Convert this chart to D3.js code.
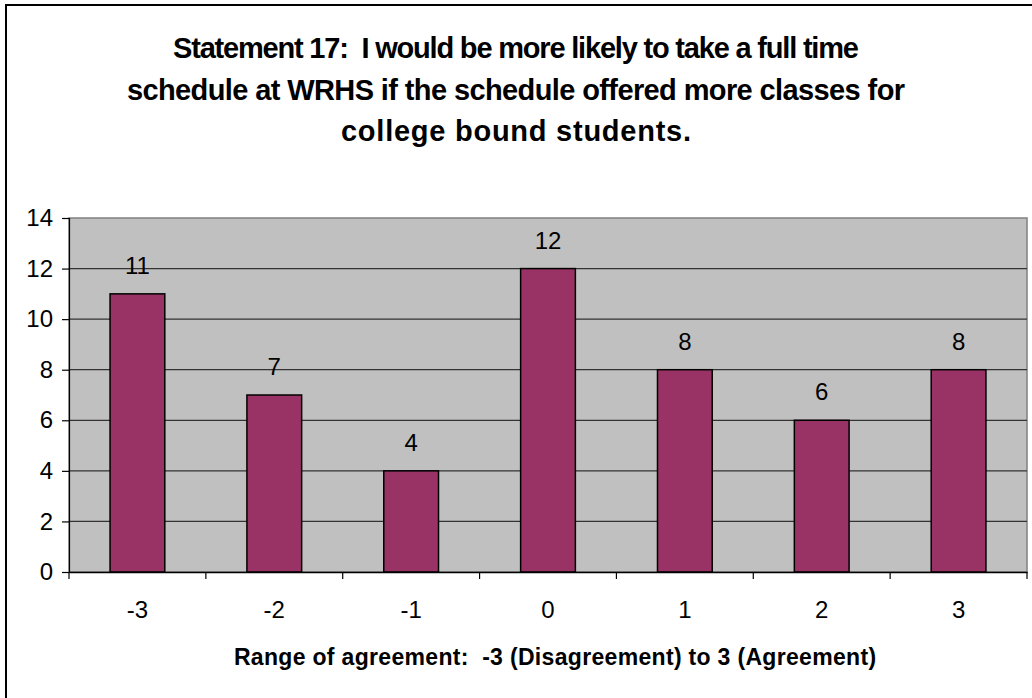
<!DOCTYPE html>
<html><head><meta charset="utf-8">
<script src="https://cdn.jsdelivr.net/npm/d3@7"></script>
<style>body{margin:0;background:#fff}svg{display:block}</style>
</head><body>
<svg id="c" width="1032" height="698"></svg>
<script>
const categories = ["-3","-2","-1","0","1","2","3"];
const values = [11,7,4,12,8,6,8];
const yTicks = [0,2,4,6,8,10,12,14];
const titleLines = [
  "Statement 17:  I would be more likely to take a full time",
  "schedule at WRHS if the schedule offered more classes for",
  "college bound students."
];
const xTitle = "Range of agreement:  -3 (Disagreement) to 3 (Agreement)";

const svg = d3.select("#c");
const font = "Liberation Sans, Arial, sans-serif";
const m = {l:69, r:1027, t:218, b:572};

// outer frame
svg.append("rect").attr("x",6).attr("y",5).attr("width",1040).attr("height",710)
  .attr("fill","#fff").attr("stroke","#000").attr("stroke-width",2);

const x = d3.scaleBand().domain(categories).range([m.l,m.r]).paddingInner(0.6).paddingOuter(0.3);
const xb = d3.scaleBand().domain(categories).range([m.l,m.r]);
const y = d3.scaleLinear().domain([0,14]).range([m.b,m.t]);

// plot area
svg.append("rect").attr("x",m.l).attr("y",m.t).attr("width",m.r-m.l).attr("height",m.b-m.t)
  .attr("fill","#c0c0c0").attr("stroke","#808080").attr("stroke-width",1.5);

// gridlines
svg.append("g").selectAll("line").data(yTicks.filter(d=>d>0 && d<14)).join("line")
  .attr("x1",m.l).attr("x2",m.r).attr("y1",d=>y(d)).attr("y2",d=>y(d))
  .attr("stroke","#333").attr("stroke-width",1.2);

// bars
svg.append("g").selectAll("rect").data(values).join("rect")
  .attr("x",(d,i)=>x(categories[i])).attr("width",x.bandwidth())
  .attr("y",d=>y(d)).attr("height",d=>y(0)-y(d))
  .attr("fill","#993366").attr("stroke","#000").attr("stroke-width",1.5);

// data labels
svg.append("g").selectAll("text").data(values).join("text")
  .attr("x",(d,i)=>x(categories[i])+x.bandwidth()/2).attr("y",d=>y(d)-20)
  .attr("text-anchor","middle").attr("font-family",font).attr("font-size",24).attr("fill","#000")
  .text(d=>d);

// y axis
const yAxis = d3.axisLeft(y).tickValues(yTicks).tickSize(7).tickPadding(9).tickFormat(d3.format("d"));
const ya = svg.append("g").attr("transform",`translate(${m.l},0)`).call(yAxis);
ya.select(".domain").attr("stroke","#000").attr("stroke-width",1.2);
ya.selectAll(".tick line").attr("stroke","#000").attr("stroke-width",1.2);
ya.selectAll(".tick text").attr("font-family",font).attr("font-size",24).attr("fill","#000");

// x axis
const xAxis = d3.axisBottom(xb).tickSize(0).tickPadding(29);
const xa = svg.append("g").attr("transform",`translate(0,${m.b})`).call(xAxis);
xa.select(".domain").attr("stroke","#000").attr("stroke-width",1.5);
xa.selectAll(".tick text").attr("font-family",font).attr("font-size",24).attr("fill","#000");
// x ticks at band boundaries
const bounds = categories.map(c=>xb(c)).concat([m.r]);
xa.append("g").selectAll("line").data(bounds).join("line")
  .attr("x1",d=>d).attr("x2",d=>d).attr("y1",0).attr("y2",7)
  .attr("stroke","#000").attr("stroke-width",1.2);

function fitSpacing(sel, target){
  sel.each(function(d,i){
    const t = typeof target === "function" ? target(d,i) : target;
    const el = d3.select(this);
    const n = this.getNumberOfChars();
    const w = this.getComputedTextLength();
    const ls = (t - w)/Math.max(1,n-1);
    el.attr("letter-spacing", ls.toFixed(2));
    el.attr("dx", (ls/2).toFixed(2));
  });
}

// title
const tlen = [686, 778, 350];
const tt = svg.append("g").selectAll("text").data(titleLines).join("text")
  .attr("x",516).attr("y",(d,i)=>58+i*41.5)
  .attr("text-anchor","middle").attr("font-family",font).attr("font-weight","bold")
  .attr("font-size",29).attr("fill","#000")
  .style("white-space","pre")
  .text(d=>d);
fitSpacing(tt, (d,i)=>tlen[i]);

// x title
const xt = svg.append("text").attr("x",555).attr("y",665).attr("text-anchor","middle")
  .attr("font-family",font).attr("font-weight","bold").attr("font-size",23).attr("fill","#000")
  .style("white-space","pre")
  .text(xTitle);
fitSpacing(xt, 642);
</script>
</body></html>
